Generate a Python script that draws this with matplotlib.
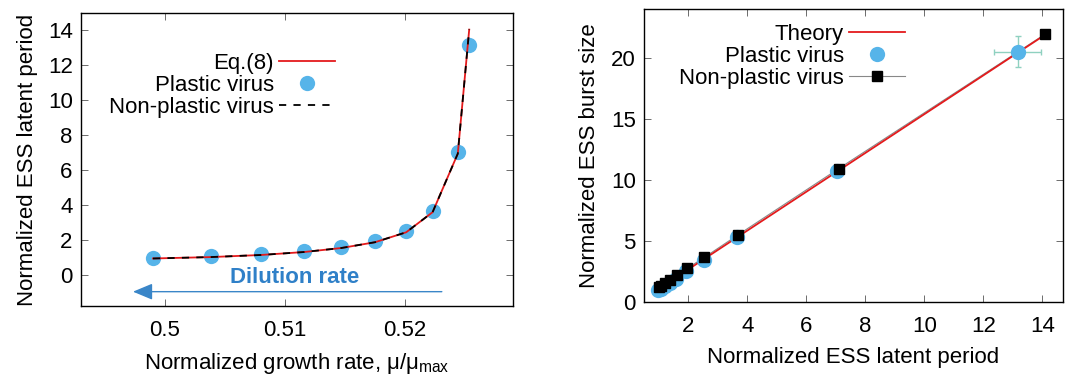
import numpy as np
import matplotlib
matplotlib.use("Agg")
import matplotlib.pyplot as plt

plt.rcParams['font.family'] = ['Liberation Sans', 'DejaVu Sans']
plt.rcParams['mathtext.fontset'] = 'custom'
plt.rcParams['mathtext.rm'] = 'Liberation Sans'
plt.rcParams['mathtext.it'] = 'Liberation Sans'

# 左パネル: 成長率 vs ESS潜伏期間
growth = [0.49897, 0.5038, 0.5080, 0.5116, 0.5147, 0.5175, 0.5201, 0.5223, 0.52438, 0.52533]
latent_plastic = [0.99, 1.07, 1.20, 1.37, 1.60, 1.94, 2.53, 3.66, 7.03, 13.16]
growth_line = [0.4990, 0.5038, 0.5080, 0.5116, 0.5147, 0.5175, 0.5201, 0.5223, 0.5244, 0.52535]
latent_eq8 = [0.95, 1.03, 1.15, 1.32, 1.55, 1.88, 2.45, 3.60, 6.95, 14.05]
latent_nonplastic = [0.95, 1.03, 1.15, 1.32, 1.55, 1.88, 2.45, 3.60, 6.95, 14.05]

# 右パネル: 潜伏期間 vs バーストサイズ
burst_plastic = [1.0, 1.1, 1.3, 1.55, 1.9, 2.5, 3.45, 5.35, 10.7, 20.5]
latent_np = [1.0, 1.07, 1.2, 1.38, 1.62, 1.96, 2.55, 3.68, 7.1, 14.1]
burst_np = [1.2, 1.35, 1.55, 1.8, 2.2, 2.75, 3.66, 5.49, 10.93, 21.95]
theory_x = [0.95, 14.1]
theory_y = [1.0, 21.9]
err_x = [0, 0, 0, 0, 0, 0, 0, 0, 0, 0.8]
err_y = [0, 0, 0, 0, 0, 0, 0, 0, 0, 1.25]

BLUE = '#56b4e9'
RED = '#e41a1c'
FS = 16

fig = plt.figure(figsize=(10.84, 3.74), dpi=100)
ax1 = fig.add_axes([81 / 1084, 1 - 306 / 374, (513 - 81) / 1084, (306 - 13) / 374])
ax2 = fig.add_axes([644 / 1084, 1 - 302 / 374, (1063 - 644) / 1084, (302 - 9) / 374])

# 左
l_eq, = ax1.plot(growth_line, latent_eq8, '-', color=RED, lw=1.3, zorder=2)
p_pl, = ax1.plot(growth, latent_plastic, 'o', color=BLUE, ms=11, mec='none', zorder=1)
l_np, = ax1.plot(growth_line, latent_nonplastic, '--', color='black', lw=1.3,
                 dashes=(4, 4), zorder=3)
ax1.set_xlim(0.493, 0.529)
ax1.set_ylim(-1.77, 15)
ax1.set_xticks([0.5, 0.51, 0.52])
ax1.set_xticklabels(['0.5', '0.51', '0.52'])
ax1.set_yticks(range(0, 15, 2))
ax1.set_xlabel(r'Normalized growth rate, $\mu/\mu_{\rm max}$', fontsize=FS, labelpad=7)
ax1.set_ylabel('Normalized ESS latent period', fontsize=FS, labelpad=7)
ax1.annotate('', xy=(0.4971, -0.95), xytext=(0.5233, -0.95),
             arrowprops=dict(arrowstyle='-|>,head_length=0.6,head_width=0.25',
                             color='#3a86c8', lw=1.0, mutation_scale=20))
ax1.text(0.5108, -0.15, 'Dilution rate', color='#2f80c8', fontsize=FS,
         fontweight='bold', ha='center', va='center')
ax1.legend([l_eq, p_pl, l_np], ['Eq.(8)', 'Plastic virus', 'Non-plastic virus'],
           loc='upper right', bbox_to_anchor=(0.588, 0.865), frameon=False,
           fontsize=FS, markerfirst=False, handlelength=2.5, handletextpad=0.25,
           labelspacing=0.05, borderpad=0, borderaxespad=0)

# 右
ax2.plot(latent_np, burst_np, '-', color='#888888', lw=0.8, zorder=1)
l_th, = ax2.plot(theory_x, theory_y, '-', color=RED, lw=1.3, zorder=2)
ax2.errorbar(latent_plastic, burst_plastic, xerr=err_x, yerr=err_y, fmt='none',
             ecolor='#8fd1c0', elinewidth=1.0, capsize=2.5, zorder=1)
p_pl2, = ax2.plot(latent_plastic, burst_plastic, 'o', color=BLUE, ms=11,
                  mec='none', zorder=3)
p_np2, = ax2.plot(latent_np, burst_np, 's', color='black', ms=7, zorder=4)
h_np = ax2.plot([], [], 's-', color='#888888', mfc='black', mec='black', ms=7, lw=0.8)[0]
ax2.set_xlim(0.5, 14.7)
ax2.set_ylim(0, 24)
ax2.set_xticks(range(2, 15, 2))
ax2.set_yticks(range(0, 21, 5))
ax2.set_xlabel('Normalized ESS latent period', fontsize=FS, labelpad=7)
ax2.set_ylabel('Normalized ESS burst size', fontsize=FS, labelpad=8)
ax2.legend([l_th, p_pl2, h_np], ['Theory', 'Plastic virus', 'Non-plastic virus'],
           loc='upper right', bbox_to_anchor=(0.623, 0.95), frameon=False,
           fontsize=FS, markerfirst=False, handlelength=2.5, handletextpad=0.25,
           labelspacing=0.05, borderpad=0, borderaxespad=0)

for ax in (ax1, ax2):
    ax.tick_params(direction='in', top=True, right=True, labelsize=FS,
                   length=5, width=0.6, color='#555555')
    ax.tick_params(axis='x', pad=10)
    ax.tick_params(axis='y', pad=6)
    for s in ax.spines.values():
        s.set_linewidth(1.0)

fig.savefig('out.png', dpi=100)
